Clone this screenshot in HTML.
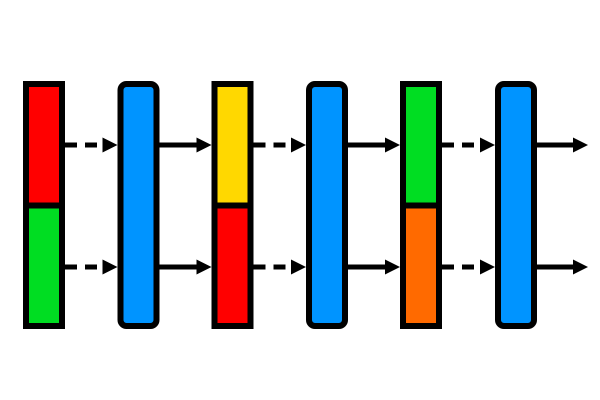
<!DOCTYPE html>
<html><head><meta charset="utf-8"><style>html,body{margin:0;padding:0;background:#fff}svg{display:block}</style></head>
<body>
<svg id="d" width="600" height="400" xmlns="http://www.w3.org/2000/svg"></svg>
<script>
const blockX = [26, 120.5, 214.5, 309, 403, 498];
const blockTop = [["#ff0000","#00dd22"],null,["#ffd800","#ff0000"],null,["#00dd22","#ff6a00"],null];
const rowsY = [145, 267];
const svg = document.getElementById('d');
const NS = 'http://www.w3.org/2000/svg';
function mk(t, a){const e=document.createElementNS(NS,t);for(const k in a)e.setAttribute(k,a[k]);svg.appendChild(e);return e;}
blockX.forEach((x,i)=>{
  const c = blockTop[i];
  if(c){
    let r=mk('rect',{x:x,y:84,width:36,height:121.5,fill:c[0]});
    
    
    r=mk('rect',{x:x,y:205.5,width:36,height:120.5,fill:c[1]});
    
    
    r=mk('rect',{x:x,y:84,width:36,height:242,fill:'none',stroke:'#000','stroke-width':6});
    
    
    mk('line',{x1:x,x2:x+36,y1:205.5,y2:205.5,stroke:'#000','stroke-width':6});
  } else {
    const r=mk('rect',{x:x,y:84,width:36,height:242,rx:6,fill:'#0094ff',stroke:'#000','stroke-width':6});
    
    
  }
  const start = x+39;
  const end = i<blockX.length-1 ? blockX[i+1]-3 : 588;
  rowsY.forEach((y,j)=>{
    const g=mk('g',{});
    
    
    const l=document.createElementNS(NS,'line');
    const attrs={x1:start,x2:end-13,y1:y,y2:y,stroke:'#000','stroke-width':5};
    if(c) attrs['stroke-dasharray']='12 8';
    for(const k in attrs) l.setAttribute(k,attrs[k]);
    g.appendChild(l);
    const p=document.createElementNS(NS,'polygon');
    p.setAttribute('points',`${end-15},${y-7.5} ${end},${y} ${end-15},${y+7.5}`);
    p.setAttribute('fill','#000');
    g.appendChild(p);
  });
});
</script>
</body></html>
